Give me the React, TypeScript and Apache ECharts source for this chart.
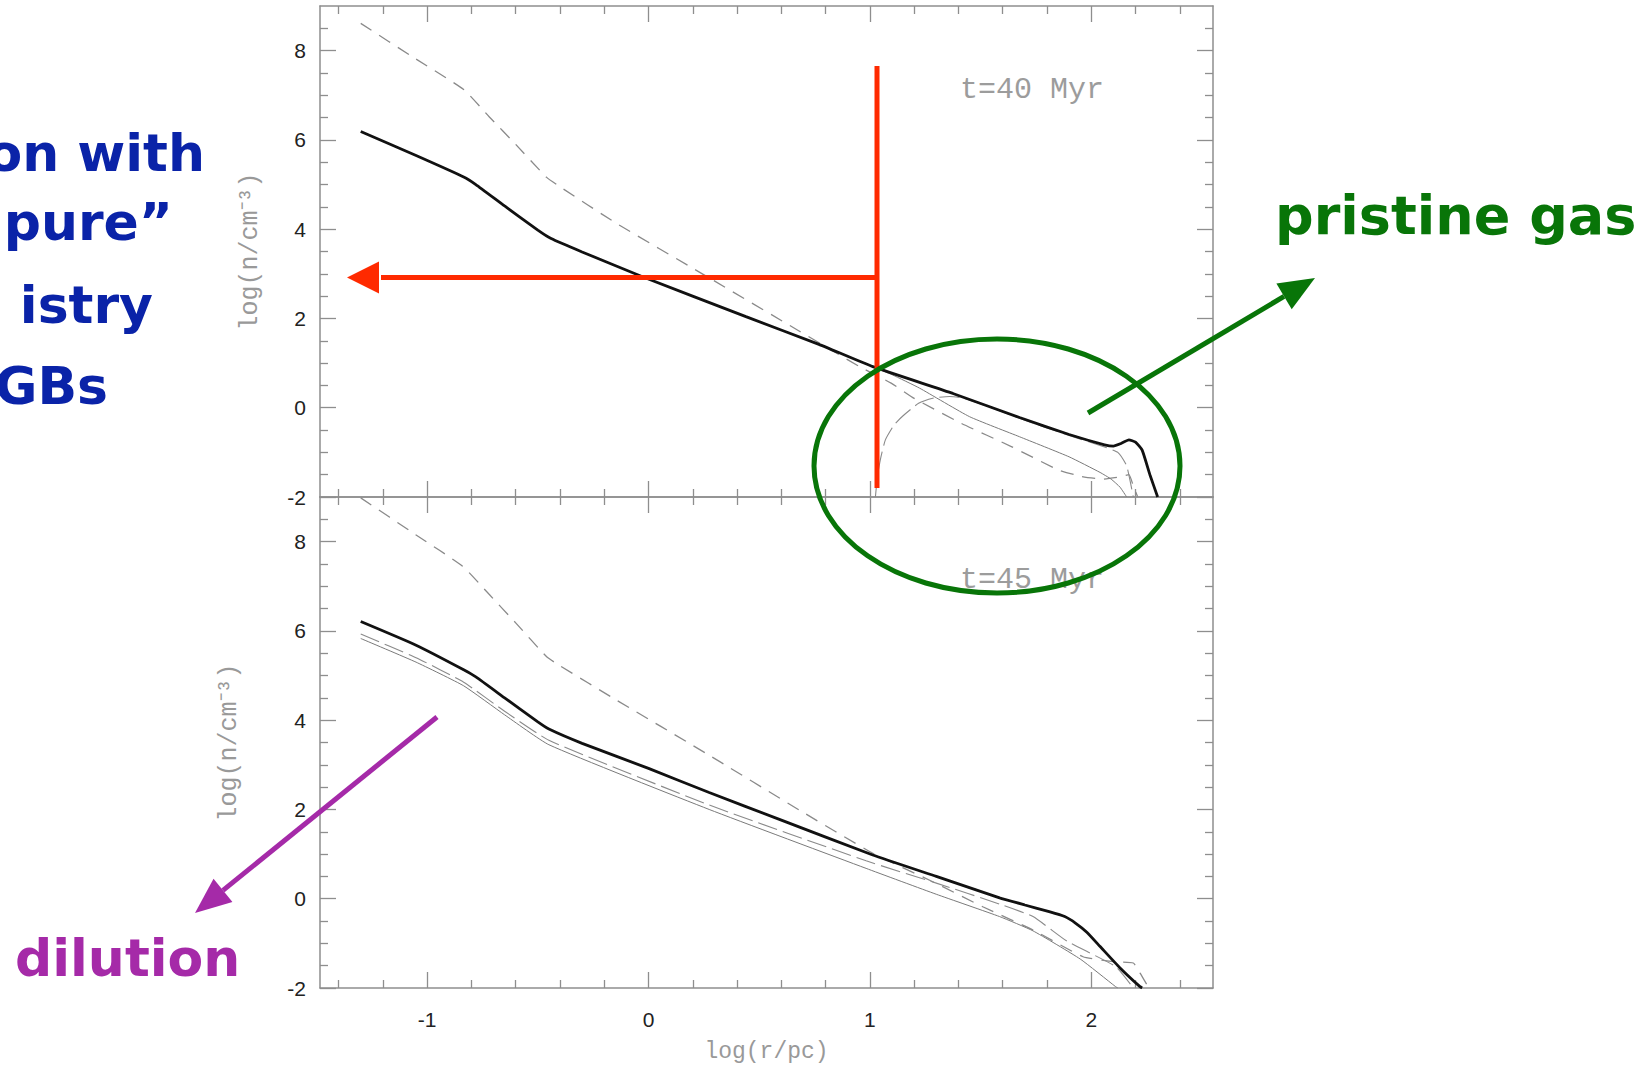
import React, { useEffect, useRef } from "react";
import * as echarts from "echarts";

// Axis extents (log r/pc horizontally, log n/cm^-3 vertically)
const X_RANGE = [-1.484, 2.55];
const Y_RANGE = [-2, 9];

const xMajorTicks = [-1, 0, 1, 2];
const xMinorTicks = [-1.4, -1.2, -0.8, -0.6, -0.4, -0.2, 0.2, 0.4, 0.6, 0.8, 1.2, 1.4, 1.6, 1.8, 2.2, 2.4];
const yMajorTicks = [-2, 0, 2, 4, 6, 8];
const yMinorTicks = [-1.5, -1, -0.5, 0.5, 1, 1.5, 2.5, 3, 3.5, 4.5, 5, 5.5, 6.5, 7, 7.5, 8.5];

const panelTimes = ["t=40 Myr", "t=45 Myr"];

// t = 40 Myr profiles
const total40 = [
  [-1.3, 6.19], [-1.05, 5.65], [-0.835, 5.17], [-0.78, 5.0], [-0.65, 4.52], [-0.5, 3.98],
  [-0.44, 3.79], [-0.3, 3.49], [-0.03, 2.94], [0.44, 2.04], [0.77, 1.42], [1.013, 0.92],
  [1.375, 0.32], [1.676, -0.22], [1.9, -0.6], [2.06, -0.83], [2.1, -0.86], [2.135, -0.8],
  [2.17, -0.72], [2.2, -0.77], [2.23, -0.95], [2.265, -1.5], [2.3, -2.0],
];
const dashed40 = [
  [-1.3, 8.61], [-1.05, 7.81], [-0.835, 7.13], [-0.72, 6.52], [-0.6, 5.9], [-0.46, 5.16],
  [-0.4, 4.95], [-0.148, 4.14], [0.243, 3.0], [0.68, 1.72], [0.95, 0.93], [1.096, 0.55],
  [1.2, 0.21], [1.413, -0.35], [1.639, -0.87], [1.85, -1.39], [1.955, -1.54], [2.05, -1.6],
  [2.13, -1.55], [2.17, -1.5], [2.19, -1.75], [2.21, -2.0],
];
const thin40 = [
  [0.77, 1.42], [1.013, 0.92], [1.1, 0.74], [1.224, 0.44], [1.45, -0.2], [1.676, -0.65],
  [1.9, -1.1], [2.04, -1.45], [2.09, -1.6], [2.13, -1.78], [2.16, -2.0],
];
const longDash40 = [
  [1.025, -2.0], [1.035, -1.5], [1.05, -1.1], [1.07, -0.72], [1.11, -0.38], [1.15, -0.18],
  [1.22, 0.1], [1.29, 0.22], [1.36, 0.25], [1.42, 0.22], [1.55, 0.0], [1.7, -0.28],
  [1.9, -0.62], [2.06, -0.88], [2.12, -1.0], [2.16, -1.3], [2.19, -2.0],
];

// t = 45 Myr profiles
const total45 = [
  [-1.3, 6.21], [-1.05, 5.68], [-0.835, 5.13], [-0.78, 4.97], [-0.65, 4.5], [-0.5, 3.96],
  [-0.45, 3.8], [-0.3, 3.48], [0.0, 2.92], [0.274, 2.38], [0.6, 1.76], [1.013, 0.98],
  [1.3, 0.5], [1.586, 0.02], [1.7, -0.14], [1.81, -0.29], [1.88, -0.4], [1.93, -0.55],
  [1.98, -0.75], [2.04, -1.07], [2.13, -1.55], [2.22, -1.97], [2.23, -2.0],
];
const dashed45 = [
  [-1.3, 8.98], [-1.05, 8.15], [-0.84, 7.45], [-0.72, 6.82], [-0.6, 6.18], [-0.46, 5.42],
  [-0.4, 5.22], [-0.148, 4.46], [0.259, 3.26], [0.68, 1.99], [1.013, 1.02], [1.284, 0.38],
  [1.51, -0.18], [1.737, -0.7], [1.963, -1.3], [2.1, -1.41], [2.19, -1.44], [2.22, -1.66],
  [2.26, -2.0],
];
const longDash45 = [
  [-1.3, 5.93], [-1.05, 5.4], [-0.835, 4.85], [-0.65, 4.2], [-0.45, 3.55], [0.274, 2.1],
  [0.983, 0.85], [1.3, 0.35], [1.586, -0.12], [1.737, -0.4], [1.89, -0.95], [2.11, -1.52],
  [2.19, -2.0],
];
const thin45 = [
  [-1.3, 5.83], [-1.05, 5.3], [-0.835, 4.77], [-0.65, 4.12], [-0.45, 3.45], [0.274, 2.0],
  [0.983, 0.68], [1.3, 0.1], [1.586, -0.4], [1.737, -0.72], [1.95, -1.35], [2.11, -1.97],
  [2.12, -2.0],
];

const AXIS_COLOR = "#8e8e8e";
const TICK_FONT = "Liberation Sans";
const SERIF_MONO = "Liberation Mono";
const HAND_FONT = '"Comic Sans MS", "DejaVu Sans", sans-serif';

const GRID_LEFT = 320;
const GRID_WIDTH = 893;
const GRID_HEIGHT = 491;
const GRID_TOPS = [6, 497];

function makeXAxes(gridIndex: number, withLabels: boolean) {
  const base = {
    type: "value",
    gridIndex,
    min: X_RANGE[0],
    max: X_RANGE[1],
    splitLine: { show: false },
  };
  const line = { show: true, onZero: false, lineStyle: { color: AXIS_COLOR, width: 1.5 } };
  const noLine = { show: false, onZero: false };
  const major = { inside: true, length: 16, customValues: xMajorTicks, lineStyle: { color: AXIS_COLOR, width: 1.3 } };
  const minor = { inside: true, length: 8, customValues: xMinorTicks, lineStyle: { color: AXIS_COLOR, width: 1.3 } };
  return [
    {
      ...base,
      position: "bottom",
      axisLine: line,
      axisTick: major,
      axisLabel: withLabels
        ? { show: true, customValues: xMajorTicks, margin: 21, color: "#222", fontSize: 21, fontFamily: TICK_FONT }
        : { show: false },
      name: withLabels ? "log(r/pc)" : "",
      nameLocation: "middle",
      nameGap: 52,
      nameTextStyle: { color: "#999", fontSize: 23, fontFamily: SERIF_MONO },
    },
    { ...base, position: "bottom", axisLine: noLine, axisTick: minor, axisLabel: { show: false } },
    { ...base, position: "top", axisLine: line, axisTick: major, axisLabel: { show: false } },
    { ...base, position: "top", axisLine: noLine, axisTick: minor, axisLabel: { show: false } },
  ];
}

function makeYAxes(gridIndex: number, nameGap: number) {
  const base = {
    type: "value",
    gridIndex,
    min: Y_RANGE[0],
    max: Y_RANGE[1],
    splitLine: { show: false },
  };
  const line = { show: true, onZero: false, lineStyle: { color: AXIS_COLOR, width: 1.5 } };
  const noLine = { show: false, onZero: false };
  const major = { inside: true, length: 16, customValues: yMajorTicks, lineStyle: { color: AXIS_COLOR, width: 1.3 } };
  const minor = { inside: true, length: 8, customValues: yMinorTicks, lineStyle: { color: AXIS_COLOR, width: 1.3 } };
  return [
    {
      ...base,
      position: "left",
      axisLine: line,
      axisTick: major,
      axisLabel: { show: true, customValues: yMajorTicks, margin: 14, color: "#222", fontSize: 21, fontFamily: TICK_FONT },
      name: "log(n/cm\u207B\u00B3)",
      nameLocation: "middle",
      nameGap,
      nameTextStyle: { color: "#999", fontSize: 25, fontFamily: SERIF_MONO },
    },
    { ...base, position: "left", axisLine: noLine, axisTick: minor, axisLabel: { show: false } },
    { ...base, position: "right", axisLine: line, axisTick: major, axisLabel: { show: false } },
    { ...base, position: "right", axisLine: noLine, axisTick: minor, axisLabel: { show: false } },
  ];
}

function profile(name: string, data: number[][], axisIndex: number, lineStyle: any, z: number) {
  return {
    name,
    type: "line",
    xAxisIndex: axisIndex,
    yAxisIndex: axisIndex,
    data,
    symbol: "none",
    showSymbol: false,
    smooth: 0.15,
    silent: true,
    z,
    lineStyle,
  };
}

const totalStyle = { color: "#111", width: 2.8 };
const dashedStyle = { color: "#8a8a8a", width: 1.3, type: [13, 9] };
const thinStyle = { color: "#7a7a7a", width: 1 };
const longDashStyle = { color: "#8a8a8a", width: 1.1, type: [20, 6] };

function arrowHead(tip: number[], from: number[], len: number, half: number) {
  const dx = tip[0] - from[0];
  const dy = tip[1] - from[1];
  const l = Math.hypot(dx, dy);
  const ux = dx / l;
  const uy = dy / l;
  const bx = tip[0] - ux * len;
  const by = tip[1] - uy * len;
  return {
    base: [bx, by],
    points: [tip, [bx - uy * half, by + ux * half], [bx + uy * half, by - ux * half]],
  };
}

export default function App() {
  const ref = useRef<HTMLDivElement>(null);

  useEffect(() => {
    if (!ref.current) return;
    const chart = echarts.init(ref.current, undefined, { renderer: "svg" });

    const RED = "#ff2a00";
    const GREEN = "#087508";
    const PURPLE = "#a52aa8";
    const BLUE = "#0a23a8";

    const redTip = [347, 277.5];
    const redHead = arrowHead(redTip, [877, 277.5], 32, 16);
    const greenTip = [1315, 278];
    const greenHead = arrowHead(greenTip, [1088, 413], 36, 15);
    const purpleTip = [195, 913];
    const purpleHead = arrowHead(purpleTip, [437, 717], 36, 15);

    const handText = (text: string, x: number, y: number, size: number, fill: string, align: string) => ({
      type: "text",
      x,
      y,
      z: 120,
      style: {
        text,
        fill,
        font: `bold ${size}px ${HAND_FONT}`,
        align,
        verticalAlign: "middle",
      },
    });

    chart.setOption({
      animation: false,
      backgroundColor: "#ffffff",
      grid: GRID_TOPS.map((top) => ({
        left: GRID_LEFT,
        top,
        width: GRID_WIDTH,
        height: GRID_HEIGHT,
        containLabel: false,
        outerBoundsMode: "none",
      })),
      xAxis: [...makeXAxes(0, false), ...makeXAxes(1, true)],
      yAxis: [...makeYAxes(0, 57), ...makeYAxes(1, 78)],
      series: [
        profile("dashed40", dashed40, 0, dashedStyle, 2),
        profile("thin40", thin40, 0, thinStyle, 2),
        profile("longDash40", longDash40, 0, longDashStyle, 2),
        profile("total40", total40, 0, totalStyle, 3),
        profile("dashed45", dashed45, 4, dashedStyle, 2),
        profile("thin45", thin45, 4, thinStyle, 2),
        profile("longDash45", longDash45, 4, longDashStyle, 2),
        profile("total45", total45, 4, totalStyle, 3),
      ],
      graphic: [
        // panel time stamps
        {
          type: "text",
          x: 960,
          y: 90,
          z: 50,
          style: { text: panelTimes[0], fill: "#9c9c9c", font: `30px ${SERIF_MONO}`, align: "left", verticalAlign: "middle" },
        },
        {
          type: "text",
          x: 960,
          y: 580,
          z: 50,
          style: { text: panelTimes[1], fill: "#9c9c9c", font: `30px ${SERIF_MONO}`, align: "left", verticalAlign: "middle" },
        },
        // red marker: vertical cut and arrow back to the axis
        {
          type: "line",
          z: 110,
          shape: { x1: 877, y1: 66, x2: 877, y2: 488 },
          style: { stroke: RED, lineWidth: 5 },
        },
        {
          type: "line",
          z: 110,
          shape: { x1: 877, y1: 277.5, x2: redHead.base[0] + 2, y2: 277.5 },
          style: { stroke: RED, lineWidth: 5 },
        },
        { type: "polygon", z: 110, shape: { points: redHead.points }, style: { fill: RED } },
        // green ellipse and arrow
        {
          type: "ellipse",
          z: 111,
          shape: { cx: 997, cy: 466, rx: 183, ry: 127 },
          style: { fill: "none", stroke: GREEN, lineWidth: 5 },
        },
        {
          type: "line",
          z: 111,
          shape: { x1: 1088, y1: 413, x2: greenHead.base[0], y2: greenHead.base[1] },
          style: { stroke: GREEN, lineWidth: 5 },
        },
        { type: "polygon", z: 111, shape: { points: greenHead.points }, style: { fill: GREEN } },
        handText("pristine gas", 1275, 215, 54, GREEN, "left"),
        // purple arrow
        {
          type: "line",
          z: 111,
          shape: { x1: 437, y1: 717, x2: purpleHead.base[0], y2: purpleHead.base[1] },
          style: { stroke: PURPLE, lineWidth: 5 },
        },
        { type: "polygon", z: 111, shape: { points: purpleHead.points }, style: { fill: PURPLE } },
        handText("dilution", 15, 958, 52, PURPLE, "left"),
        // blue caption running off the left edge
        handText("on with", 205, 153, 52, BLUE, "right"),
        handText("\u201Cpure\u201D", 173, 222, 52, BLUE, "right"),
        handText("istry", 153, 305, 52, BLUE, "right"),
        handText("GBs", 108, 386, 52, BLUE, "right"),
      ],
    });

    return () => chart.dispose();
  }, []);

  return (
    <div
      ref={ref}
      style={{ position: "absolute", left: 0, top: 0, width: 1648, height: 1072, background: "#fff" }}
    />
  );
}
